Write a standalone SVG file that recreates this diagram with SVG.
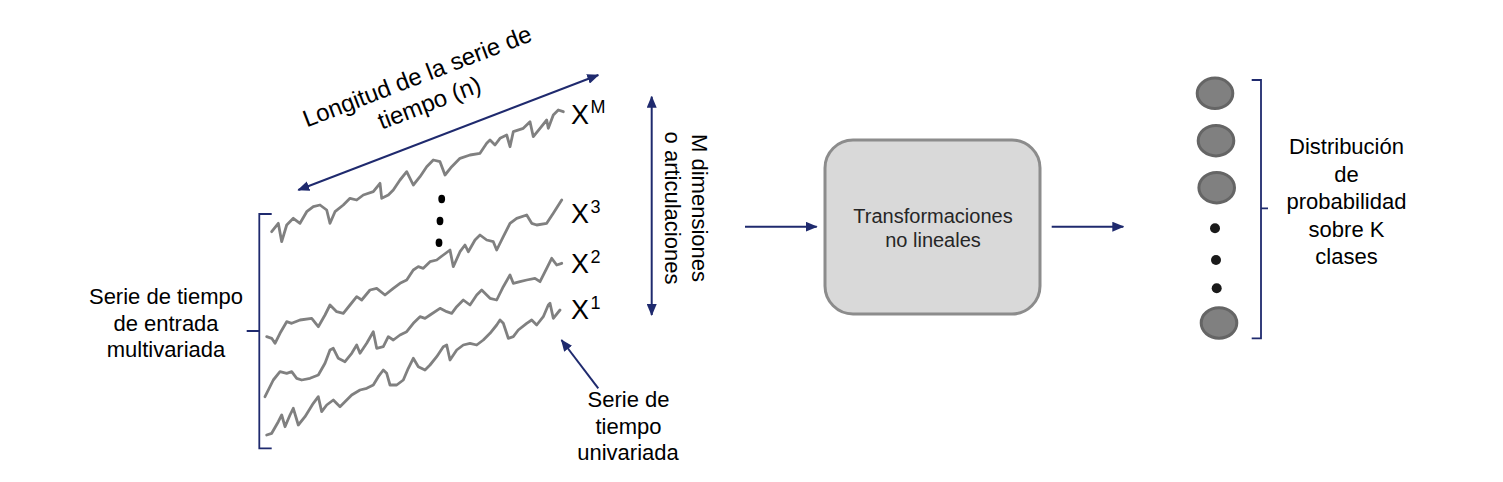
<svg xmlns="http://www.w3.org/2000/svg" width="1503" height="482" viewBox="0 0 1503 482">
<style>
.t{font-family:"Liberation Sans",Arial,sans-serif;font-size:22px;fill:#000}
.wave{fill:none;stroke:#808080;stroke-width:2.8;stroke-linejoin:round;stroke-linecap:round}
.nav{fill:none;stroke:#1f2a6e;stroke-width:2}
.brk{fill:none;stroke:#1f2a6e;stroke-width:1.8}
.xl{font-family:"Liberation Sans",Arial,sans-serif;font-size:27px;fill:#000}
.xs{font-family:"Liberation Sans",Arial,sans-serif;font-size:18px;fill:#000}
.cir{fill:#808080;stroke:#656565;stroke-width:3}
</style>
<defs>
<marker id="ah" viewBox="0 0 12 10" refX="11" refY="5" markerWidth="12" markerHeight="10" markerUnits="userSpaceOnUse" orient="auto-start-reverse">
<path d="M0,0 L12,5 L0,10 Z" fill="#1f2a6e"/>
</marker>
</defs>
<rect width="1503" height="482" fill="#fff"/>

<g id="series">
<polyline class="wave" points="271.7,231.7 278.3,223.3 281.7,241.7 286.7,225 293.3,218.3 300,223.3 306.7,211.7 313.3,206.7 320,205 326.7,210 330,223.3 335,211.7 343.3,205 350,198.3 356.7,200 363.3,195 373.3,191.7 380,183.3 381.7,198.3 388.3,195 393.3,190 400,180 406.7,171.7 413.3,185 420,176.7 426.7,166.7 433.3,160 440,161.7 445,175 451.7,166.7 460,158.3 470,155 480,153.3 486.7,143.3 490,140 495,145 500,138.3 506.7,135 510,146.7 513.3,131.7 523.3,128.3 530,121.7 533.3,136.7 540,128.3 546.7,120 548.3,128.3 553.3,115 558.3,110 563.3,111.7"/>
<polyline class="wave" points="266.7,336.7 271.7,338.3 275,343.3 280,333.3 286.7,321.7 291.7,323.3 300,320 311.7,318.3 318.3,326.7 325,315 330,305 336.7,311.7 343.3,313.3 350,305 356.7,296.7 361.7,300 370,290 376.7,288.3 385,295 393.3,288.3 400,283.3 406.7,280 413.3,270 418.3,266.7 423.3,268.3 430,261.7 436.7,260 443.3,255 450,250 453.3,266.7 460,251.7 465,245 468.3,251.7 475,240 480,235 486.7,240 493.3,241.7 496.7,250 503.3,236.7 510,223.3 516.7,218.3 526.7,215 531.7,223.3 536.7,225 546.7,223.3 553.3,213.3 561.7,200"/>
<polyline class="wave" points="265,396.7 273.3,380 280,371.7 286.7,373.3 291.7,371.7 296.7,378.3 301.7,380 310,378.3 318.3,375 325,363.3 330,350 333.3,348.3 338.3,358.3 345,361.7 351.7,353.3 356.7,345 360,353.3 366.7,343.3 373.3,331.7 376.7,348.3 383.3,346.7 388.3,336.7 393.3,340 400,335 406.7,331.7 413.3,323.3 420,316.7 425,318.3 430,315 440,308.3 446.7,311.7 451.7,313.3 456.7,306.7 463.3,300 470,305 476.7,295 481.7,290 490,298.3 496.7,300 503.3,286.7 510,275 513.3,283.3 520,281.7 526.7,280 535,278.3 540,281.7 546.7,268.3 551.7,258.3 556.7,265 561.7,263.3"/>
<polyline class="wave" points="266.7,435 271.7,433.3 278.3,421.7 281.7,415 285,426.7 290,415 293.3,408.3 298.3,425 305,416.7 313.3,403.3 318.3,396.7 321.7,411.7 326.7,405 333.3,400 340,406.7 346.7,400 351.7,395 360,390 366.7,388.3 373.3,385 378.3,376.7 383.3,370 386.7,373.3 390,385 396.7,385 403.3,380 408.3,368.3 413.3,358.3 418.3,366.7 425,370 430,365 436.7,356.7 443.3,346.7 446.7,345 450,360 456.7,350 463.3,345 470,343.3 476.7,345 483.3,340 490,333.3 496.7,325 500,320 503.3,323.3 508.3,338.3 513.3,336.7 518.3,330 526.7,323.3 531.7,320 536.7,325 543.3,316.7 548.3,305 550,303.3 553.3,318.3 560,310"/>
<ellipse cx="441.7" cy="199" rx="3.4" ry="4.2" fill="#000"/>
<ellipse cx="440" cy="221" rx="3.4" ry="4.2" fill="#000"/>
<ellipse cx="439" cy="242.7" rx="3.4" ry="4.2" fill="#000"/>
<text class="xl" x="571" y="123.5">X</text><text class="xs" x="590.5" y="113">M</text>
<text class="xl" x="571" y="223">X</text><text class="xs" x="590.5" y="213">3</text>
<text class="xl" x="571" y="273">X</text><text class="xs" x="590.5" y="263">2</text>
<text class="xl" x="571" y="319">X</text><text class="xs" x="590.5" y="309">1</text>
</g>

<g id="input-label">
<path class="brk" d="M271.7,214 H259.3 V448.3 H271.7 M259.3,331 H246.7"/>
<text class="t" text-anchor="middle"><tspan x="166" y="304">Serie de tiempo</tspan><tspan x="166" y="330.5">de entrada</tspan><tspan x="166" y="357">multivariada</tspan></text>
</g>

<g id="length-label">
<text class="t" style="font-size:24px" text-anchor="middle" transform="translate(420,84) rotate(-21)"><tspan x="0" y="0">Longitud de la serie de</tspan><tspan x="2" y="29">tiempo (n)</tspan></text>
</g>

<g id="dims-label">
<text class="t" text-anchor="middle" transform="translate(692,208) rotate(90)"><tspan x="0" y="0">M dimensiones</tspan><tspan x="0" y="27">o articulaciones</tspan></text>
</g>

<g id="univariate-label">
<text class="t" text-anchor="middle"><tspan x="628.5" y="407">Serie de</tspan><tspan x="628.5" y="433.5">tiempo</tspan><tspan x="628" y="460">univariada</tspan></text>
</g>

<g id="transform-node">
<rect x="825" y="140" width="215" height="174" rx="28" ry="28" fill="#d9d9d9" stroke="#8c8c8c" stroke-width="3"/>
<text class="t" style="font-size:20px;fill:#262626" text-anchor="middle"><tspan x="933" y="222.5">Transformaciones</tspan><tspan x="933" y="246.5">no lineales</tspan></text>
</g>

<g id="output-node">
<ellipse class="cir" cx="1215" cy="93.3" rx="17.8" ry="15.2"/>
<ellipse class="cir" cx="1216" cy="140.7" rx="17.8" ry="15.2"/>
<ellipse class="cir" cx="1216.7" cy="187.7" rx="17.8" ry="15.2"/>
<circle cx="1215" cy="228.3" r="5" fill="#1a1a1a"/>
<circle cx="1216" cy="260" r="5" fill="#1a1a1a"/>
<circle cx="1216.7" cy="288.3" r="5" fill="#1a1a1a"/>
<ellipse class="cir" cx="1219" cy="323" rx="17.8" ry="15.2"/>
<path class="brk" d="M1251.7,80 H1261 V338.3 H1251.7 M1261,208.3 H1268"/>
<text class="t" text-anchor="middle"><tspan x="1346.5" y="154">Distribución</tspan><tspan x="1346.5" y="181.6">de</tspan><tspan x="1346.5" y="209.2">probabilidad</tspan><tspan x="1346.5" y="236.8">sobre K</tspan><tspan x="1346.5" y="264.4">clases</tspan></text>
</g>

<g id="connectors">
<line class="nav" x1="298.3" y1="190" x2="598.3" y2="75" marker-start="url(#ah)" marker-end="url(#ah)"/>
<line class="nav" x1="651.7" y1="96.7" x2="651.7" y2="315" marker-start="url(#ah)" marker-end="url(#ah)"/>
<line class="nav" x1="598.3" y1="388.3" x2="561.5" y2="340" marker-end="url(#ah)"/>
<line class="nav" x1="745" y1="226.7" x2="816.7" y2="226.7" marker-end="url(#ah)"/>
<line class="nav" x1="1051.7" y1="226.7" x2="1123.3" y2="226.7" marker-end="url(#ah)"/>
</g>
</svg>
